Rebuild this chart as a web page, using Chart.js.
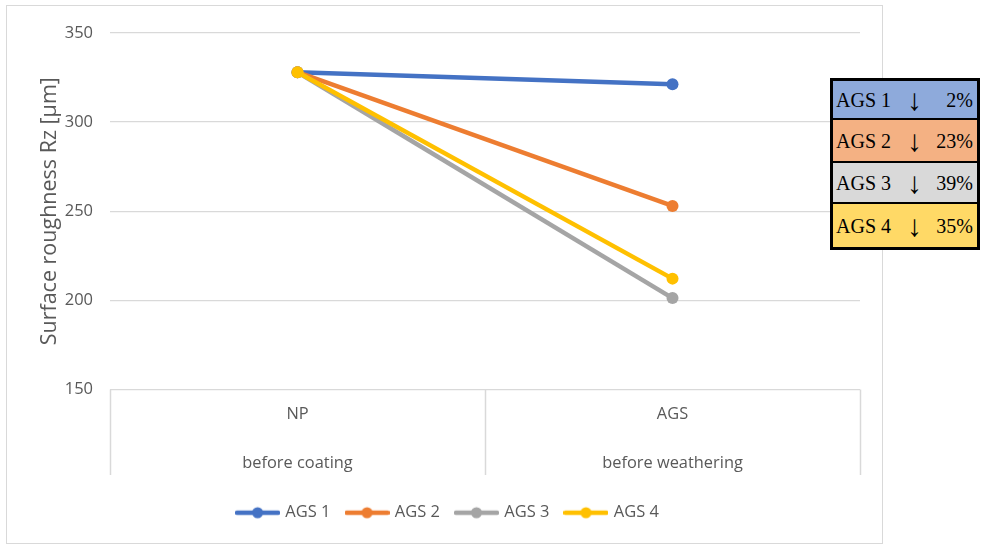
<!DOCTYPE html>
<html>
<head>
<meta charset="utf-8">
<script src="https://cdn.jsdelivr.net/npm/chart.js@4.4.1/dist/chart.umd.min.js"></script>
<style>
  html, body { margin: 0; padding: 0; background: #fff; }
  body { width: 987px; height: 544px; position: relative; overflow: hidden; }
  #frame {
    position: absolute; left: 6px; top: 5px; width: 877px; height: 539px;
    box-sizing: border-box; border: 1px solid #d9d9d9; background: #fff;
  }
  #frame canvas { display: block; }
  #reduction {
    position: absolute; left: 830px; top: 78px; width: 150px;
    box-sizing: border-box; border: 3px solid #000;
    font-family: "Liberation Serif", "Times New Roman", serif; font-size: 20px; color: #000;
  }
  #reduction .row {
    position: relative; box-sizing: border-box; border-bottom: 2px solid #000;
  }
  #reduction .row:last-child { border-bottom: none; }
  #reduction .name { position: absolute; left: 3px; }
  #reduction .arrow { position: absolute; left: 74px; font-size: 30px; }
  #reduction .pct { position: absolute; right: 4px; }
  #reduction span { top: 50%; transform: translateY(-50%); line-height: 1; }
</style>
</head>
<body>
<div id="frame"><canvas id="chart" width="875" height="537"></canvas></div>
<div id="reduction"></div>
<script>
// Categories (two-line labels) and measured Rz values per sample set
const categories = [['NP', 'before coating'], ['AGS', 'before weathering']];
const seriesNames = ['AGS 1', 'AGS 2', 'AGS 3', 'AGS 4'];
const ags1 = [328, 321.3];
const ags2 = [328, 253];
const ags3 = [328, 201.3];
const ags4 = [328, 212.2];
const yTicks = [150, 200, 250, 300, 350];

const lineColors = ['#4472c4', '#ed7d31', '#a5a5a5', '#ffc000'];
const boxColors = ['#8eaadb', '#f4b183', '#d9d9d9', '#ffd966'];
const rowHeights = [39, 43, 41, 43];

const seriesValues = [ags1, ags2, ags3, ags4];
const axisFont = 'Open Sans';
const textGrey = '#595959';
const gridGrey = '#d9d9d9';

// Legend symbol: short line with a marker in the middle
function legendIcon(color) {
  const c = document.createElement('canvas');
  c.width = 45; c.height = 14;
  const g = c.getContext('2d');
  g.strokeStyle = color; g.lineWidth = 4.5; g.lineCap = 'round';
  g.beginPath(); g.moveTo(2, 7); g.lineTo(43, 7); g.stroke();
  g.fillStyle = color;
  g.beginPath(); g.arc(22.5, 7, 5.5, 0, Math.PI * 2); g.fill();
  return c;
}

// Category separators below the x axis
const categoryDividers = {
  id: 'categoryDividers',
  afterDraw(chart) {
    const x = chart.scales.x;
    const g = chart.ctx;
    const n = chart.data.labels.length;
    const step = (x.right - x.left) / n;
    g.save();
    g.strokeStyle = gridGrey; g.lineWidth = 1.5;
    for (let i = 0; i <= n; i++) {
      const px = Math.round(x.left + i * step) + 0.5;
      g.beginPath(); g.moveTo(px, x.top); g.lineTo(px, 469); g.stroke();
    }
    g.restore();
  }
};

function build() {
  const datasets = seriesNames.map((name, i) => ({
    label: name,
    data: seriesValues[i],
    borderColor: lineColors[i],
    backgroundColor: lineColors[i],
    pointBackgroundColor: lineColors[i],
    pointBorderColor: lineColors[i],
    borderWidth: 4.5,
    pointRadius: 6,
    pointBorderWidth: 0,
    tension: 0,
    order: seriesNames.length - i
  }));

  new Chart(document.getElementById('chart'), {
    type: 'line',
    data: { labels: categories, datasets },
    options: {
      responsive: false,
      animation: false,
      events: [],
      layout: { padding: { top: 27, right: 22, left: 30, bottom: 12 } },
      scales: {
        x: {
          offset: true,
          grid: { display: false },
          border: { display: false },
          ticks: {
            color: textGrey, padding: -8, maxRotation: 0,
            font: { family: axisFont, size: 16.4, lineHeight: '49px' }
          },
          afterFit(s) { s.height = 98; }
        },
        y: {
          min: 150, max: 350,
          afterBuildTicks(s) { s.ticks = yTicks.map(v => ({ value: v })); },
          grid: { color: gridGrey, lineWidth: 1.3, drawTicks: false },
          border: { display: false },
          ticks: { color: textGrey, padding: 17, font: { family: axisFont, size: 16.5 } },
          title: {
            display: true, text: 'Surface roughness Rz [µm]', color: textGrey,
            font: { family: axisFont, size: 21.5 }, padding: { top: 0, bottom: 0 }
          },
          afterFit(s) { s.width = 73; }
        }
      },
      plugins: {
        tooltip: { enabled: false },
        legend: {
          position: 'bottom',
          labels: {
            usePointStyle: true, pointStyleWidth: 39, padding: 17,
            color: textGrey, font: { family: axisFont, size: 16.5 },
            generateLabels(chart) {
              return chart.data.datasets.map((ds, i) => ({
                text: ds.label, pointStyle: legendIcon(ds.borderColor),
                fillStyle: ds.borderColor, strokeStyle: ds.borderColor,
                lineWidth: 0, hidden: false, datasetIndex: i, fontColor: textGrey
              }));
            }
          }
        }
      }
    },
    plugins: [categoryDividers]
  });

  // Reduction summary box: drop from NP to AGS for each series
  const box = document.getElementById('reduction');
  seriesNames.forEach((name, i) => {
    const v = seriesValues[i];
    const pct = Math.round((1 - v[1] / v[0]) * 100);
    const row = document.createElement('div');
    row.className = 'row';
    row.style.background = boxColors[i];
    row.style.height = rowHeights[i] + 'px';
    row.innerHTML = '<span class="name">' + name + '</span><span class="arrow">↓</span><span class="pct">' + pct + '%</span>';
    box.appendChild(row);
  });
}

Promise.all([
  document.fonts.load('16px "Open Sans"'),
  document.fonts.load('19px "Liberation Serif"')
]).then(build, build);
</script>
</body>
</html>
